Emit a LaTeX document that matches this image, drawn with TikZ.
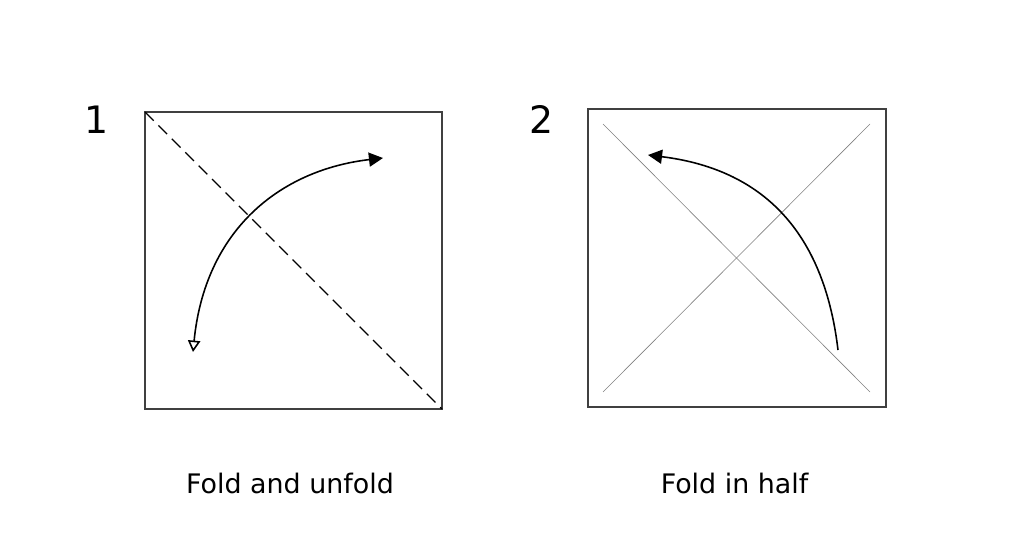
\documentclass[tikz,border=0pt]{standalone}
\usepackage{fontspec}
\setmainfont{DejaVu Sans}
\usetikzlibrary{arrows.meta}
\begin{document}
\begin{tikzpicture}[x=0.02cm, y=-0.02cm,
    paper/.style={draw=black!75, line width=0.6pt},
    crease/.style={draw=black!50, line width=0.35pt},
    valley/.style={draw=black, line width=0.7pt, dash pattern=on 7pt off 3.8pt},
    foldarrow/.style={line width=0.9pt},
    steplabel/.style={font=\fontsize{21.5}{26}\selectfont, anchor=base},
    caption/.style={font=\fontsize{15.3}{18}\selectfont, anchor=base}]
    \useasboundingbox (0,0) rectangle (1017,554);

    % step 1
    \coordinate (a1) at (145,112);
    \coordinate (b1) at (442,409);
    \draw[paper] (a1) rectangle (b1);
    \draw[valley] (a1) -- (b1);
    \coordinate (s1) at (193,352);
    \coordinate (e1) at (383,158);
    \draw[foldarrow, {Triangle[open, length=6.5pt, width=7pt]}-{Triangle[length=8pt, width=8pt]}]
        (s1) .. controls (205,230) and (280,170) .. (e1);
    \node[steplabel] (n1) at (97,133) {1};
    \node[caption] (t1) at (290,493) {Fold and unfold};

    % step 2
    \coordinate (a2) at (588,109);
    \coordinate (b2) at (886,407);
    \draw[paper] (a2) rectangle (b2);
    \coordinate (c1) at (603,124);
    \coordinate (c2) at (870,392);
    \coordinate (c3) at (603,392);
    \coordinate (c4) at (870,124);
    \draw[crease] (c1) -- (c2);
    \draw[crease] (c3) -- (c4);
    \coordinate (s2) at (838,350);
    \coordinate (e2) at (648,155);
    \draw[foldarrow, -{Triangle[length=8pt, width=8pt]}]
        (s2) .. controls (825,240) and (770,170) .. (e2);
    \node[steplabel] (n2) at (542,133) {2};
    \node[caption] (t2) at (734.5,493) {Fold in half};
\end{tikzpicture}
\end{document}
